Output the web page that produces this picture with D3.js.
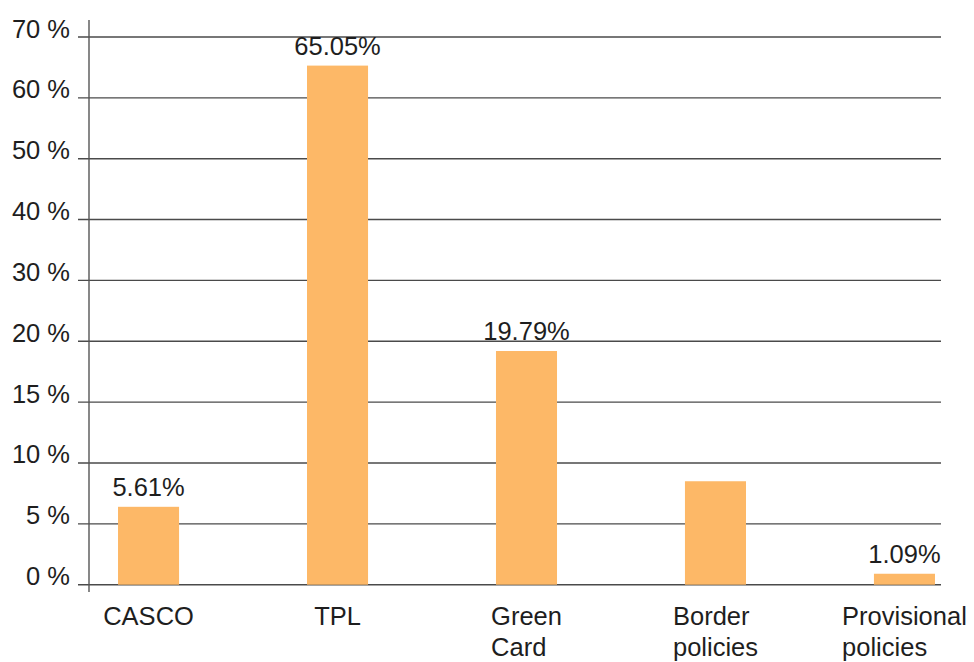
<!DOCTYPE html>
<html>
<head>
<meta charset="utf-8">
<script src="https://cdn.jsdelivr.net/npm/d3@7"></script>
<style>
html,body{margin:0;padding:0;background:#fff;}
text{font-family:"Liberation Sans","Helvetica Neue",Arial,sans-serif;fill:#1e1e1e;}
</style>
</head>
<body>
<svg id="chart" width="974" height="662"></svg>
<script>
const categories = [["CASCO"], ["TPL"], ["Green", "Card"], ["Border", "policies"], ["Provisional", "policies"]];
const values = [6.4, 65.3, 19.2, 8.5, 0.9];
const valueLabels = ["5.61%", "65.05%", "19.79%", "", "1.09%"];
const tickValues = [0, 5, 10, 15, 20, 30, 40, 50, 60, 70];
const tickLabels = ["0 %", "5 %", "10 %", "15 %", "20 %", "30 %", "40 %", "50 %", "60 %", "70 %"];

const svg = d3.select("#chart");
const yBottom = 584.7, yTop = 37;
const step = (yBottom - yTop) / (tickValues.length - 1);
const y = d3.scaleLinear()
  .domain(tickValues)
  .range(tickValues.map((d, i) => yBottom - i * step));

const x = d3.scaleBand()
  .domain(categories.map((d, i) => i))
  .range([91, 962])
  .paddingInner(0.677)
  .paddingOuter(0.143);

// gridlines
svg.append("g").selectAll("line").data(tickValues).join("line")
  .attr("x1", 78).attr("x2", 941)
  .attr("y1", d => y(d)).attr("y2", d => y(d))
  .attr("stroke", "#4a4a4a").attr("stroke-width", 1.4);

// tick labels
svg.append("g").selectAll("text").data(tickValues).join("text")
  .attr("x", 70).attr("y", d => y(d) + 0.5)
  .attr("text-anchor", "end")
  .attr("font-size", 25.5)
  .text((d, i) => tickLabels[i]);

// bars
svg.append("g").selectAll("rect").data(values).join("rect")
  .attr("x", (d, i) => x(i))
  .attr("width", x.bandwidth())
  .attr("y", d => y(d))
  .attr("height", d => y(0) - y(d))
  .attr("fill", "#fdb867");

// y axis line
svg.append("line")
  .attr("x1", 89).attr("x2", 89)
  .attr("y1", 20).attr("y2", 592)
  .attr("stroke", "#555").attr("stroke-width", 1.4);

// value labels
svg.append("g").selectAll("text").data(values).join("text")
  .attr("x", (d, i) => x(i) + x.bandwidth() / 2)
  .attr("y", d => y(d) - 11)
  .attr("text-anchor", "middle")
  .attr("font-size", 25.5)
  .text((d, i) => valueLabels[i]);

// category labels
const cg = svg.append("g");
categories.forEach((lines, i) => {
  const t = cg.append("text").attr("font-size", 25.5);
  lines.forEach((ln, j) => {
    t.append("tspan").attr("x", 0).attr("y", 625 + j * 31).text(ln);
  });
  const w = t.node().getBBox().width;
  const cx = x(i) + x.bandwidth() / 2;
  t.attr("transform", `translate(${Math.min(cx - w / 2, 972 - w)},0)`);
});
</script>
</body>
</html>
